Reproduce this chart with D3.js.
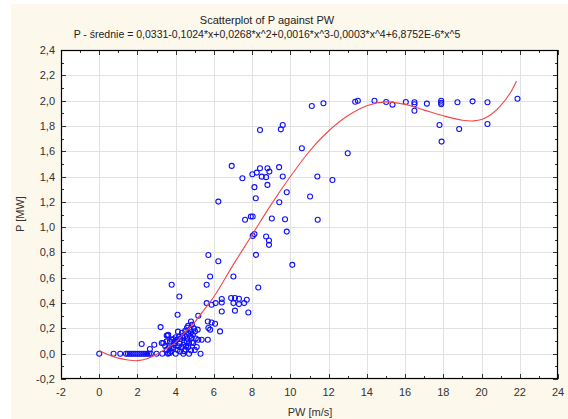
<!DOCTYPE html>
<html><head><meta charset="utf-8">
<script src="https://cdn.jsdelivr.net/npm/d3@7"></script>
<style>body{margin:0;background:#fff}svg{display:block}text{font-family:"Liberation Sans",Arial,sans-serif}</style>
</head><body><svg id="c" width="568" height="419"></svg>
<script>
const title = "Scatterplot of P against PW";
const subtitle = "P - średnie = 0,0331-0,1024*x+0,0268*x^2+0,0016*x^3-0,0003*x^4+6,8752E-6*x^5";
const xLabel = "PW [m/s]";
const yLabel = "P [MW]";
const xTicks = [-2,0,2,4,6,8,10,12,14,16,18,20,22,24];
const yTicks = [-0.2,0,0.2,0.4,0.6,0.8,1.0,1.2,1.4,1.6,1.8,2.0,2.2,2.4];

// scatter data: PW [m/s]
const pw = [
 0,0.75,1.1,1.4,1.5,1.6,1.7,1.8,1.9,2.0,2.1,2.2,2.3,2.4,2.5,2.6,2.7,3.0,3.3,3.6,4.0,4.4,4.7,5.3,
 2.22,2.65,2.88,3.21,3.27,3.58,3.79,4.19,4.10,4.80,5.18,5.62,5.80,5.62,6.23,7.02,5.68,5.88,6.06,5.71,5.80,6.32,5.15,
 5.88,6.09,6.41,6.41,6.41,6.90,7.10,7.31,7.72,7.02,7.31,7.58,7.80,7.10,8.32,5.71,5.36,5.68,
 10.60,13.0,6.93,8.41,8.80,9.41,8.01,8.24,8.50,8.73,8.90,7.49,9.60,11.41,12.20,8.12,8.80,6.23,8.19,9.42,9.81,11.03,
 7.63,7.93,8.03,9.03,9.72,11.43,9.81,8.03,8.12,8.73,8.88,8.88,8.20,10.10,9.60,9.50,8.41,11.12,11.73,
 13.39,13.53,14.40,15.01,15.34,16.04,16.49,16.49,16.49,17.14,17.89,17.89,17.89,17.80,17.91,18.74,18.83,19.53,20.31,20.31,21.88,
 3.35,3.53,3.70,3.87,3.96,4.07,4.17,3.79,3.53,3.70,3.61,3.53,3.79,3.96,4.23,4.49,4.66,4.75,5.01,4.84,4.58,4.92,5.18,4.40,4.14,3.87,4.66,5.10,4.52,4.80,4.23,3.61,
 4.33,4.59,4.85,4.38,4.12,
 4.30,4.45,4.60,4.70,4.75,4.90,4.95,5.05,4.50,4.65,4.80,4.35,4.20,4.00,3.90,4.55,4.85,5.00,4.45,4.10,3.75,3.45,3.65
];
// scatter data: P [MW]
const p = [
 0,0,0,0,0,0,0,0,0,0,0,0,0,0,0,0,0,0,0,0,0,0,0,0,
 0.077,0.037,0.071,0.21,0.084,0.144,0.545,0.452,0.308,0.255,0.30,0.40,0.61,0.545,0.73,0.61,0.255,0.247,0.237,0.203,0.19,0.176,0.19,
 0.387,0.40,0.432,0.405,0.334,0.44,0.44,0.434,0.426,0.40,0.392,0.40,0.326,0.34,0.523,0.78,0.11,0.11,
 1.623,1.584,1.484,1.466,1.466,1.474,1.418,1.431,1.399,1.395,1.439,1.387,1.40,1.40,1.373,1.316,1.334,1.202,1.229,1.197,1.276,1.242,
 1.058,1.084,1.084,1.068,1.063,1.058,0.965,0.931,0.945,0.926,0.894,0.86,0.781,0.702,1.807,1.773,1.768,1.957,1.979,
 1.991,1.999,1.999,1.989,1.968,1.989,1.987,1.971,1.920,1.976,1.999,1.983,1.971,1.807,1.676,1.987,1.776,1.994,1.987,1.815,2.015,
 0.084,0.144,0.097,0.116,0.084,0.11,0.134,0.045,0.032,0.006,0.15,0.097,0.11,0.097,0.116,0.137,0.163,0.19,0.176,0.124,0.097,0.084,0.11,0.071,0.058,0.045,0.053,0.053,0.032,0.026,0.018,0.006,
 0.166,0.205,0.229,0.126,0.174,
 0.05,0.09,0.12,0.08,0.14,0.15,0.20,0.12,0.18,0.22,0.17,0.14,0.08,0.13,0.07,0.06,0.09,0.03,0.02,0.03,0.02,0.06,0.05
];
// fitted curve
const fitX = [0,0.5,1,1.5,2,2.5,3,3.5,4,4.5,5,5.5,6,7,8,9,10,11,12,13,14,15,16,17,18,19,19.6,20,20.5,21,21.5,21.83];
const fitP = [0.026,-0.01,-0.035,-0.05,-0.055,-0.04,-0.005,0.04,0.09,0.17,0.25,0.35,0.45,0.70,0.94,1.18,1.40,1.60,1.76,1.88,1.96,1.99,1.97,1.925,1.88,1.845,1.84,1.85,1.89,1.96,2.06,2.155];

const svg = d3.select("#c");
const L=61, R=558, T=50, B=379;
const x = d3.scaleLinear().domain([-2,24]).range([L,R]);
const y = d3.scaleLinear().domain([-0.2,2.4]).range([B,T]);

svg.append("rect").attr("x",11).attr("y",4).attr("width",557).attr("height",415).attr("fill","#fdf8ec");
svg.append("rect").attr("x",L).attr("y",T).attr("width",R-L).attr("height",B-T).attr("fill","#fff");

// grid
const g = svg.append("g").attr("stroke","#e2e2e2").attr("stroke-width",1);
xTicks.slice(1,-1).forEach(v=>g.append("line").attr("x1",Math.round(x(v))+0.5).attr("x2",Math.round(x(v))+0.5).attr("y1",T).attr("y2",B));
yTicks.slice(1,-1).forEach(v=>g.append("line").attr("y1",Math.round(y(v))+0.5).attr("y2",Math.round(y(v))+0.5).attr("x1",L).attr("x2",R));

// ticks inward on all sides
const fmt = v => d3.format(".1f")(v).replace(".",",").replace("−","-");
const tk = svg.append("g").attr("stroke","#333").attr("stroke-width",1);
const xMinor = d3.range(-1,24,2), yMinor = d3.range(-0.1,2.4,0.2);
xTicks.forEach(v=>{const X=Math.round(x(v))+0.5; tk.append("line").attr("x1",X).attr("x2",X).attr("y1",B).attr("y2",B-5); tk.append("line").attr("x1",X).attr("x2",X).attr("y1",T).attr("y2",T+5);});
xMinor.forEach(v=>{const X=Math.round(x(v))+0.5; tk.append("line").attr("x1",X).attr("x2",X).attr("y1",B).attr("y2",B-3); tk.append("line").attr("x1",X).attr("x2",X).attr("y1",T).attr("y2",T+3);});
yTicks.forEach(v=>{const Y=Math.round(y(v))+0.5; tk.append("line").attr("y1",Y).attr("y2",Y).attr("x1",L).attr("x2",L+5); tk.append("line").attr("y1",Y).attr("y2",Y).attr("x1",R).attr("x2",R-5);});
yMinor.forEach(v=>{const Y=Math.round(y(v))+0.5; tk.append("line").attr("y1",Y).attr("y2",Y).attr("x1",L).attr("x2",L+3); tk.append("line").attr("y1",Y).attr("y2",Y).attr("x1",R).attr("x2",R-3);});

svg.append("rect").attr("x",L+0.5).attr("y",T+0.5).attr("width",R-L-1).attr("height",B-T-1).attr("fill","none").attr("stroke","#000").attr("stroke-width",1.2);

// tick labels
svg.append("g").selectAll("text").data(xTicks).join("text")
 .attr("x",d=>x(d)).attr("y",396).attr("text-anchor","middle").attr("font-size",11).attr("fill","#333").text(d=>d);
svg.append("g").selectAll("text").data(yTicks).join("text")
 .attr("x",55).attr("y",d=>y(d)+4).attr("text-anchor","end").attr("font-size",11).attr("fill","#333").text(d=>fmt(d));

// labels
svg.append("text").attr("x",267).attr("y",24).attr("text-anchor","middle").attr("font-size",11).attr("fill","#222").text(title);
svg.append("text").attr("x",267).attr("y",38).attr("text-anchor","middle").attr("font-size",10.5).attr("fill","#222").text(subtitle);
svg.append("text").attr("x",310).attr("y",416).attr("text-anchor","middle").attr("font-size",11).attr("fill","#333").text(xLabel);
svg.append("text").attr("transform","translate(24,214) rotate(-90)").attr("text-anchor","middle").attr("font-size",11).attr("fill","#333").text(yLabel);

// points
const pts = pw.map((v,i)=>[v,p[i]]);
svg.append("g").selectAll("circle").data(pts).join("circle")
 .attr("cx",d=>x(d[0])).attr("cy",d=>y(d[1])).attr("r",2.5)
 .attr("fill","none").attr("stroke","#1010ff").attr("stroke-width",1.1);

// fitted curve
const line = d3.line().x(d=>x(d[0])).y(d=>y(d[1])).curve(d3.curveCatmullRom);
svg.append("path").datum(fitX.map((v,i)=>[v,fitP[i]])).attr("d",line)
 .attr("fill","none").attr("stroke","#f04848").attr("stroke-width",1.1);
</script></body></html>
